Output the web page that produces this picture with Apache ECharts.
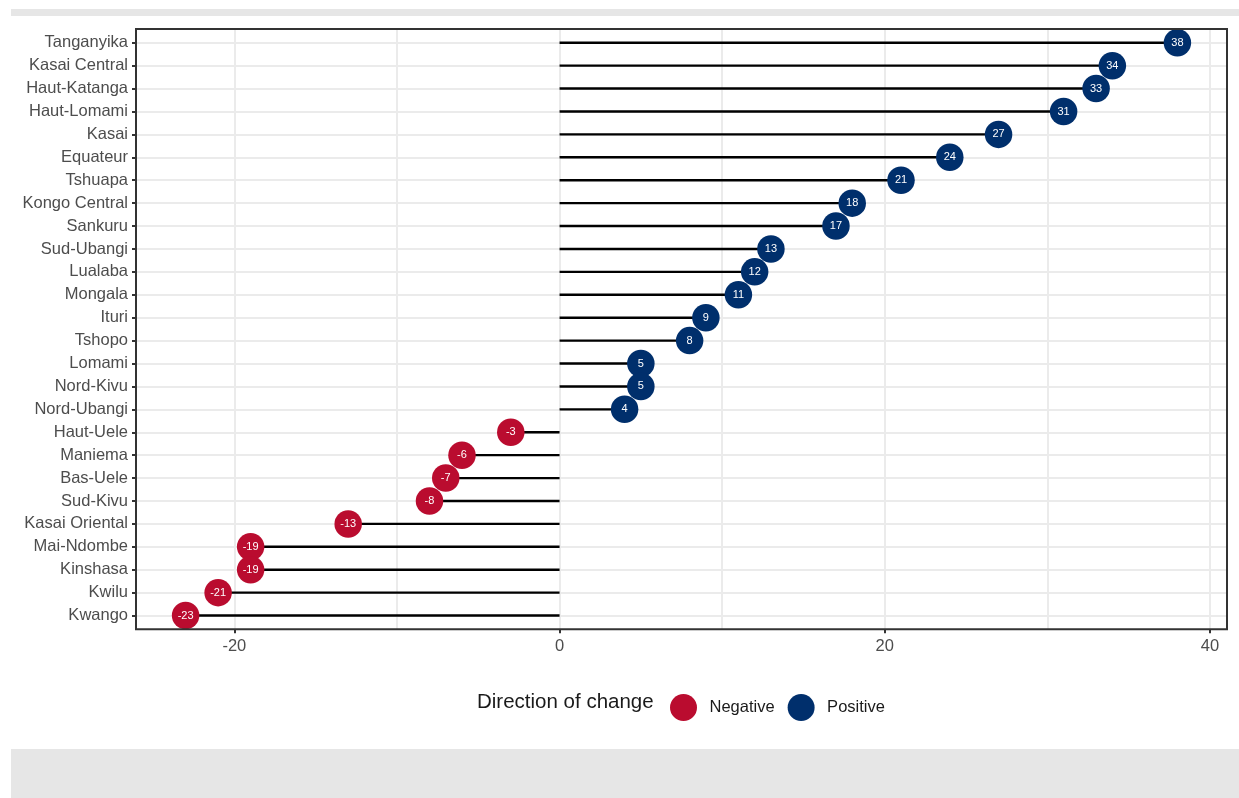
<!DOCTYPE html>
<html>
<head>
<meta charset="utf-8">
<title>Direction of change by province</title>
<script src="https://cdn.jsdelivr.net/npm/echarts@6/dist/echarts.min.js"></script>
<style>
  html, body { margin: 0; padding: 0; background: #ffffff; }
  #chart { width: 1239px; height: 798px; }
</style>
</head>
<body>
<div id="chart"></div>
<script>
// Provinces, top to bottom
const provinces = [
  'Tanganyika', 'Kasai Central', 'Haut-Katanga', 'Haut-Lomami', 'Kasai',
  'Equateur', 'Tshuapa', 'Kongo Central', 'Sankuru', 'Sud-Ubangi',
  'Lualaba', 'Mongala', 'Ituri', 'Tshopo', 'Lomami', 'Nord-Kivu',
  'Nord-Ubangi', 'Haut-Uele', 'Maniema', 'Bas-Uele', 'Sud-Kivu',
  'Kasai Oriental', 'Mai-Ndombe', 'Kinshasa', 'Kwilu', 'Kwango'
];
// Change per province
const changeValues = [
  38, 34, 33, 31, 27,
  24, 21, 18, 17, 13,
  12, 11, 9, 8, 5, 5,
  4, -3, -6, -7, -8,
  -13, -19, -19, -21, -23
];
const legendNames = ['Negative', 'Positive'];
const legendTitle = 'Direction of change';
const xTickStart = -20;
const xTickEnd = 40;

const RED = '#BA0C2F';
const BLUE = '#002F6C';
const FONT = 'Liberation Sans, Arial, sans-serif';

const negativePoints = [];
const positivePoints = [];
const stemData = [];
provinces.forEach((p, i) => {
  const v = changeValues[i];
  (v < 0 ? negativePoints : positivePoints).push([v, p]);
  stemData.push([v, p]);
});

// panel limits (data range padded by 5% on each side)
const dataMin = Math.min(...changeValues);
const dataMax = Math.max(...changeValues);
const pad = (dataMax - dataMin) * 0.05;
const panelMin = dataMin - pad;
const panelMax = dataMax + pad;

const chart = echarts.init(document.getElementById('chart'), null, { renderer: 'canvas' });

const panel = { left: 136, top: 29, width: 1091, height: 600.3 };
const pxPerUnit = panel.width / (panelMax - panelMin);
const tickLeft = panel.left + (xTickStart - panelMin) * pxPerUnit;
const tickWidth = (xTickEnd - xTickStart) * pxPerUnit;
const rowStep = panel.height / (provinces.length - 1 + 1.2);

const labelStyle = { color: '#4d4d4d', fontSize: 16.5, fontFamily: FONT };

// lollipop stem: horizontal segment from zero to the value
function renderStem(params, api) {
  const start = api.coord([0, api.value(1)]);
  const end = api.coord([api.value(0), api.value(1)]);
  return {
    type: 'line',
    shape: { x1: start[0], y1: start[1], x2: end[0], y2: end[1] },
    style: { stroke: '#000000', lineWidth: 2.4 }
  };
}

chart.setOption({
  animation: false,
  backgroundColor: '#ffffff',
  graphic: [
    { type: 'rect', z: -10, shape: { x: 11, y: 9, width: 1228, height: 7 }, style: { fill: '#e6e6e6' } },
    { type: 'rect', z: -10, shape: { x: 11, y: 749, width: 1228, height: 49 }, style: { fill: '#e6e6e6' } },
    {
      type: 'text', left: 477, top: 692,
      style: { text: legendTitle, fontSize: 20.5, fontFamily: FONT, fill: '#1a1a1a' }
    }
  ],
  legend: {
    data: legendNames,
    icon: 'circle',
    left: 670,
    top: 694,
    itemWidth: 42,
    itemHeight: 27,
    itemGap: 13,
    padding: 0,
    textStyle: { fontSize: 16.5, fontFamily: FONT, color: '#1a1a1a' }
  },
  grid: [
    // framed panel
    { left: panel.left, top: panel.top, width: panel.width, height: panel.height,
      show: true, borderColor: '#333333', borderWidth: 2, backgroundColor: 'transparent', z: 5 },
    // grid for the tick range (-20 .. 40)
    { left: tickLeft, top: panel.top, width: tickWidth, height: panel.height, show: false },
    // data area (first to last province row)
    { left: panel.left, top: panel.top + 0.6 * rowStep, width: panel.width,
      height: rowStep * (provinces.length - 1), show: false }
  ],
  xAxis: [
    { gridIndex: 0, type: 'value', min: panelMin, max: panelMax, show: false },
    { gridIndex: 1, type: 'value', min: xTickStart, max: xTickEnd, interval: 10,
      axisLine: { show: false, onZero: false }, axisTick: { show: false }, axisLabel: { show: false },
      splitLine: { show: true, lineStyle: { color: '#ebebeb', width: 2 } } },
    { gridIndex: 1, type: 'value', min: xTickStart, max: xTickEnd, interval: 20, position: 'bottom',
      axisLine: { show: false, onZero: false },
      axisTick: { show: true, length: 4, lineStyle: { color: '#333333', width: 2 } },
      axisLabel: Object.assign({ margin: 9 }, labelStyle),
      splitLine: { show: false } },
    { gridIndex: 2, type: 'value', min: panelMin, max: panelMax, show: false,
      splitLine: { show: false } }
  ],
  yAxis: [
    { gridIndex: 0, type: 'value', show: false, splitLine: { show: false } },
    { gridIndex: 1, type: 'value', show: false, splitLine: { show: false } },
    { gridIndex: 2, type: 'category', data: provinces, inverse: true, boundaryGap: false,
      position: 'left',
      axisLine: { show: false, onZero: false },
      axisTick: { show: true, length: 4, lineStyle: { color: '#333333', width: 2 } },
      axisLabel: Object.assign({ margin: 8, interval: 0 }, labelStyle),
      splitLine: { show: true, interval: 0, lineStyle: { color: '#ebebeb', width: 2 } } }
  ],
  series: [
    {
      name: 'stems', type: 'custom', xAxisIndex: 3, yAxisIndex: 2,
      data: stemData, renderItem: renderStem,
      encode: { x: 0, y: 1 }, z: 3, silent: true
    },
    {
      name: 'Negative', type: 'scatter', xAxisIndex: 3, yAxisIndex: 2,
      data: negativePoints, symbolSize: 27.5,
      itemStyle: { color: RED, opacity: 1 }, z: 4,
      label: { show: true, position: 'inside', color: '#ffffff', fontSize: 11, fontFamily: FONT,
        formatter: p => p.value[0] }
    },
    {
      name: 'Positive', type: 'scatter', xAxisIndex: 3, yAxisIndex: 2,
      data: positivePoints, symbolSize: 27.5,
      itemStyle: { color: BLUE, opacity: 1 }, z: 4,
      label: { show: true, position: 'inside', color: '#ffffff', fontSize: 11, fontFamily: FONT,
        formatter: p => p.value[0] }
    }
  ]
});
</script>
</body>
</html>
